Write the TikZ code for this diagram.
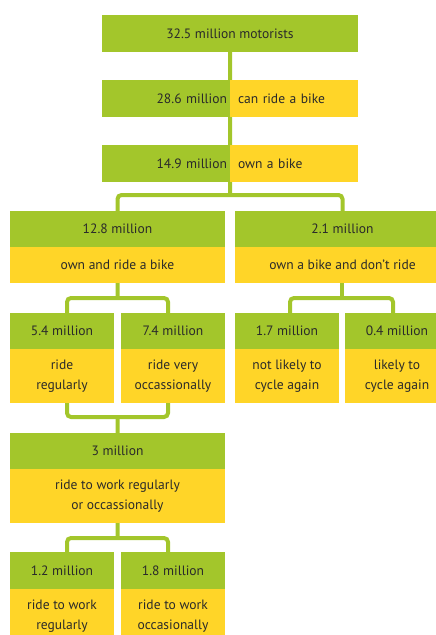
\documentclass[tikz,border=0pt]{standalone}
\usepackage{fontspec}
\setmainfont{PT Sans}
\usetikzlibrary{backgrounds}
\definecolor{lgreen}{HTML}{A3C62B}
\definecolor{lyellow}{HTML}{FFD528}
\definecolor{txt}{HTML}{2A2A2A}
\begin{document}
\begin{tikzpicture}[x=1bp,y=-1bp,
  box/.style={inner sep=0pt,outer sep=0pt,anchor=north west,text=txt,font=\fontsize{13.6}{20}\selectfont},
  gbox/.style={box,fill=lgreen},
  ybox/.style={box,fill=lyellow},
  conn/.style={draw=lgreen,line width=4bp,rounded corners=4bp}]
\useasboundingbox (0,0) rectangle (436,635);
% row 1
\node[gbox,minimum width=256bp,minimum height=37bp] (top) at (102,15) {32.5 million motorists};
% row 2
\node[gbox,minimum width=128bp,minimum height=37bp,align=right,text width=122bp] (r2g) at (102,80) {28.6 million};
\node[ybox,minimum width=128bp,minimum height=37bp,align=left,text width=122bp] (r2y) at (230,80) {\hspace*{5bp}can ride a bike};
% row 3
\node[gbox,minimum width=128bp,minimum height=37bp,align=right,text width=122bp] (r3g) at (102,145) {14.9 million};
\node[ybox,minimum width=128bp,minimum height=37bp,align=left,text width=122bp] (r3y) at (230,145) {\hspace*{5bp}own a bike};
% level 2
\node[gbox,minimum width=215bp,minimum height=36bp] (a1g) at (10,211) {12.8 million};
\node[ybox,minimum width=215bp,minimum height=36bp] (a1y) at (10,247) {own and ride a bike};
\node[gbox,minimum width=215bp,minimum height=36bp] (a2g) at (235,211) {2.1 million};
\node[ybox,minimum width=215bp,minimum height=36bp] (a2y) at (235,247) {own a bike and don't ride};
% level 3
\node[gbox,minimum width=104bp,minimum height=36bp] (b1g) at (10,313) {5.4 million};
\node[ybox,minimum width=104bp,minimum height=54bp,align=center] (b1y) at (10,349) {ride\\regularly};
\node[gbox,minimum width=104bp,minimum height=36bp] (b2g) at (121,313) {7.4 million};
\node[ybox,minimum width=104bp,minimum height=54bp,align=center] (b2y) at (121,349) {ride very\\occassionally};
\node[gbox,minimum width=104bp,minimum height=36bp] (b3g) at (235,313) {1.7 million};
\node[ybox,minimum width=104bp,minimum height=54bp,align=center] (b3y) at (235,349) {not likely to\\cycle again};
\node[gbox,minimum width=104bp,minimum height=36bp] (b4g) at (345,313) {0.4 million};
\node[ybox,minimum width=104bp,minimum height=54bp,align=center] (b4y) at (345,349) {likely to\\cycle again};
% level 4
\node[gbox,minimum width=215bp,minimum height=36bp] (c1g) at (10,433) {3 million};
\node[ybox,minimum width=215bp,minimum height=54bp,align=center] (c1y) at (10,469) {ride to work regularly\\or occassionally};
% level 5
\node[gbox,minimum width=104bp,minimum height=37bp] (d1g) at (10,552) {1.2 million};
\node[ybox,minimum width=104bp,minimum height=54bp,align=center] (d1y) at (10,589) {ride to work\\regularly};
\node[gbox,minimum width=104bp,minimum height=37bp] (d2g) at (121,552) {1.8 million};
\node[ybox,minimum width=104bp,minimum height=54bp,align=center] (d2y) at (121,589) {ride to work\\occasionally};
% bus coordinates
\coordinate (bus1) at (230,195);
\coordinate (bus2l) at (67,298);
\coordinate (bus2r) at (168,298);
\coordinate (bus2c) at (117.5,298);
\coordinate (bus3l) at (290,298);
\coordinate (bus3r) at (393,298);
\coordinate (bus3c) at (342,298);
\coordinate (mergec) at (117.5,417);
\coordinate (bus4l) at (67,538);
\coordinate (bus4r) at (168,538);
\coordinate (bus4c) at (117.5,538);
\begin{pgfonlayer}{background}
\draw[conn] (top.south) -- (bus1);
\draw[conn] (a1g.north) |- (bus1) -| (a2g.north);
\draw[conn] (a1y.south) -- (bus2c);
\draw[conn] (b1g.north -| bus2l) |- (bus2r) -- (b2g.north -| bus2r);
\draw[conn] (a2y.south -| bus3c) -- (bus3c);
\draw[conn] (b3g.north -| bus3l) |- (bus3r) -- (b4g.north -| bus3r);
\draw[conn] (b1y.south -| bus2l) |- (mergec) -| (b2y.south -| bus2r);
\draw[conn] (mergec) -- (c1g.north);
\draw[conn] (c1y.south) -- (bus4c);
\draw[conn] (d1g.north -| bus4l) |- (bus4r) -- (d2g.north -| bus4r);
\end{pgfonlayer}
\end{tikzpicture}
\end{document}
